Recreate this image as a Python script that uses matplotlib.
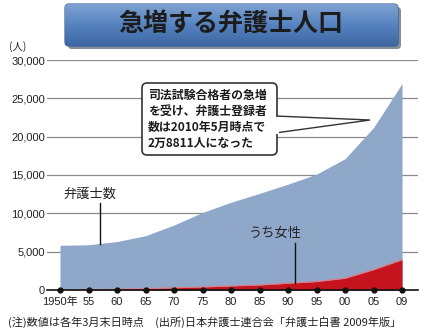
import numpy as np
import matplotlib
matplotlib.use("Agg")
import matplotlib.pyplot as plt
from matplotlib.patches import FancyBboxPatch, Polygon

plt.rcParams['font.family'] = ['Liberation Sans', 'Noto Sans CJK JP', 'DejaVu Sans']
JP = ['Noto Sans CJK JP', 'DejaVu Sans']

# lawyers registered (as of end of March each year)
tick_labels = ['1950年', '55', '60', '65', '70', '75', '80', '85', '90', '95', '00', '05', '09']
total = [5827, 5899, 6321, 7082, 8478, 10115, 11441, 12604, 13800, 15108, 17126, 21185, 26930]
women = [6, 40, 100, 180, 290, 400, 530, 660, 880, 1100, 1530, 2650, 3950]

W, H = 436, 332
fig = plt.figure(figsize=(W / 100, H / 100), dpi=100)
fig.patch.set_facecolor('white')

def px(x0, y0, x1, y1):
    # pixel box (top-left origin) -> figure fraction rect
    return [x0 / W, 1 - y1 / H, (x1 - x0) / W, (y1 - y0) / H]

ax = fig.add_axes(px(47, 60, 418, 290))
pos = np.arange(len(total))
ax.fill_between(pos, 0, total, color='#8fa8ca', lw=0, zorder=2)
ax.fill_between(pos, 0, women, color='#c5141d', lw=0, zorder=3)
ax.plot(pos, women, color='#e07a86', lw=0.8, zorder=3)

ax.set_xlim(-0.456, 12.56)
ax.set_ylim(0, 30000)
ax.set_yticks(range(0, 30001, 5000))
ax.set_yticklabels([f'{v:,}' for v in range(0, 30001, 5000)], fontsize=8, color='#222')
ax.yaxis.grid(True, color='#8a8a8a', lw=0.9, zorder=1)
ax.set_axisbelow(True)
ax.tick_params(axis='y', length=0, pad=1.5)
ax.set_xticks(pos)
ax.set_xticklabels(tick_labels, fontsize=8, color='#222')
ax.tick_params(axis='x', length=0, pad=5)
for s in ['left', 'right', 'top']:
    ax.spines[s].set_visible(False)
ax.spines['bottom'].set_color('#111')
ax.spines['bottom'].set_linewidth(1.2)
ax.spines['bottom'].set_zorder(5)
ax.plot(pos, np.zeros(len(pos)), 'o', color='#111', ms=3.5, clip_on=False, zorder=6)

# leader lines and series labels
ax.plot([1.4, 1.4], [total[1] + 80, 11300], color='#111', lw=1, zorder=4)
ax.text(1.05, 12500, '弁護士数', family=JP, fontsize=9.5, ha='center', va='center', color='#222')
ax.plot([8.25, 8.25], [900, 6100], color='#111', lw=1, zorder=4)
ax.text(7.55, 7400, 'うち女性', family=JP, fontsize=9.5, ha='center', va='center', color='#222')

# overlay in pixel coordinates
ov = fig.add_axes([0, 0, 1, 1], zorder=10)
ov.set_xlim(0, W)
ov.set_ylim(H, 0)
ov.axis('off')
ov.patch.set_alpha(0)

# title banner with gradient
shadow = FancyBboxPatch((68, 7), 333, 42, boxstyle='round,pad=0,rounding_size=4',
                        fc='#1d2f4c', ec='none', alpha=0.55)
ov.add_patch(shadow)
banner = FancyBboxPatch((65, 4), 333, 42, boxstyle='round,pad=0,rounding_size=4',
                        fc='none', ec='#2f5488', lw=0.8)
ov.add_patch(banner)
grad = np.linspace(0, 1, 64).reshape(-1, 1)
cmap = matplotlib.colors.LinearSegmentedColormap.from_list('b', ['#7fa2d2', '#5583c0', '#3d67a3'])
im = ov.imshow(grad, extent=(65, 398, 46, 4), cmap=cmap, aspect='auto', zorder=1)
im.set_clip_path(banner)
ov.text(231, 25, '急増する弁護士人口', family=JP, fontsize=18, fontweight='bold',
        ha='center', va='center', color='#1c1c1c', zorder=3)

ov.text(9, 47, '(人)', family=JP, fontsize=7.5, ha='left', va='center', color='#222')

# callout
tail = Polygon([(275, 116), (370, 120), (275, 133)], closed=True, fc='white', ec='#333', lw=1, zorder=4)
ov.add_patch(tail)
box = FancyBboxPatch((142, 83), 135, 72, boxstyle='round,pad=0,rounding_size=5',
                     fc='white', ec='#333', lw=1.2, zorder=5)
ov.add_patch(box)
ov.plot([277, 277], [117.5, 131.5], color='white', lw=2.2, zorder=6)
lines = ['司法試験合格者の急増', 'を受け、弁護士登録者', '数は2010年5月時点で', '2万8811人になった']
for i, t in enumerate(lines):
    ov.text(148, 95 + i * 16, t, family=JP, fontsize=8.6, fontweight='bold',
            ha='left', va='center', color='#1c1c1c', zorder=7)

ov.text(8, 322, '(注)数値は各年3月末日時点　(出所)日本弁護士連合会「弁護士白書 2009年版」',
        family=JP, fontsize=8.0, ha='left', va='center', color='#222')

fig.savefig('out.png', dpi=100)
